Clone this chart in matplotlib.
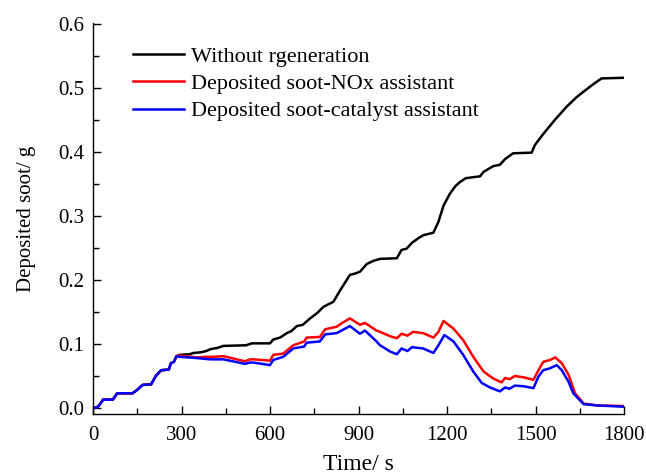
import matplotlib
matplotlib.use("Agg")
import matplotlib.pyplot as plt
from matplotlib.ticker import MultipleLocator, FormatStrFormatter

plt.rcParams['font.family'] = ['Liberation Serif', 'DejaVu Serif']

# Shared loading phase (all three curves coincide up to ~290 s)
t_common = [0, 14, 24, 34, 67, 82, 134, 149, 168, 197, 213, 231, 257, 264, 274, 283]
v_common = [0.0, 0.001, 0.006, 0.013, 0.013, 0.023, 0.023, 0.028, 0.036, 0.037,
            0.050, 0.059, 0.060, 0.070, 0.072, 0.081]

# Without regeneration
t_black = [293, 327, 341, 365, 384, 399, 423, 442, 519, 538, 600, 611, 634, 657, 672,
           691, 711, 736, 759, 781, 802, 815, 838, 860, 871, 888, 905, 928, 951, 973,
           1030, 1046, 1063, 1081, 1105, 1120, 1154, 1171, 1188, 1210, 1229, 1244,
           1263, 1278, 1312, 1324, 1357, 1379, 1397, 1424, 1487, 1498, 1526, 1567,
           1606, 1640, 1662, 1696, 1724, 1800]
v_black = [0.083, 0.084, 0.086, 0.087, 0.089, 0.092, 0.094, 0.097, 0.098, 0.101,
           0.101, 0.107, 0.110, 0.117, 0.120, 0.128, 0.130, 0.140, 0.148, 0.158,
           0.163, 0.166, 0.184, 0.200, 0.208, 0.210, 0.213, 0.225, 0.230, 0.233,
           0.234, 0.247, 0.249, 0.258, 0.266, 0.270, 0.274, 0.291, 0.316, 0.335,
           0.347, 0.353, 0.359, 0.360, 0.362, 0.369, 0.378, 0.380, 0.389, 0.398,
           0.399, 0.411, 0.428, 0.451, 0.471, 0.486, 0.494, 0.506, 0.515, 0.516]

# Deposited soot, NOx assisted regeneration
t_red = [293, 352, 384, 408, 442, 515, 533, 544, 600, 611, 645, 663, 679, 716, 724,
         769, 787, 826, 845, 871, 905, 922, 961, 973, 1008, 1030, 1046, 1066, 1085,
         1119, 1154, 1171, 1188, 1222, 1255, 1289, 1324, 1357, 1385, 1397, 1412,
         1430, 1459, 1493, 1510, 1526, 1549, 1567, 1589, 1612, 1634, 1663, 1708, 1800]
v_red = [0.082, 0.079, 0.080, 0.080, 0.081, 0.073, 0.076, 0.076, 0.074, 0.083,
         0.085, 0.092, 0.098, 0.104, 0.110, 0.111, 0.123, 0.127, 0.133, 0.140,
         0.130, 0.133, 0.121, 0.119, 0.112, 0.109, 0.116, 0.113, 0.119, 0.117,
         0.110, 0.119, 0.136, 0.124, 0.106, 0.080, 0.057, 0.046, 0.040, 0.047,
         0.045, 0.050, 0.048, 0.044, 0.059, 0.072, 0.075, 0.079, 0.070, 0.052,
         0.023, 0.007, 0.004, 0.003]

# Deposited soot, catalyst assisted regeneration
t_blue = [293, 352, 397, 442, 515, 533, 544, 600, 611, 645, 679, 716, 724, 769, 787,
          826, 871, 905, 922, 961, 973, 1008, 1030, 1046, 1066, 1081, 1119, 1154,
          1171, 1191, 1222, 1255, 1289, 1318, 1346, 1379, 1397, 1412, 1430, 1459,
          1493, 1510, 1526, 1549, 1572, 1589, 1612, 1628, 1663, 1708, 1800]
v_blue = [0.080, 0.078, 0.076, 0.076, 0.069, 0.071, 0.071, 0.067, 0.075, 0.080,
          0.093, 0.096, 0.102, 0.104, 0.115, 0.117, 0.128, 0.116, 0.121, 0.104,
          0.098, 0.088, 0.084, 0.093, 0.089, 0.095, 0.093, 0.086, 0.098, 0.114,
          0.104, 0.083, 0.057, 0.039, 0.032, 0.026, 0.032, 0.030, 0.035, 0.034,
          0.031, 0.049, 0.059, 0.062, 0.067, 0.059, 0.041, 0.023, 0.006, 0.004,
          0.002]

labels = ["Without rgeneration", "Deposited soot-NOx assistant",
          "Deposited soot-catalyst assistant"]
colors = ["#000000", "#ff0000", "#0000ff"]

fig = plt.figure(figsize=(6.46, 4.75), dpi=100)
ax = fig.add_axes([93 / 646, 61 / 475, 531 / 646, 391 / 475])

series = [(t_black, v_black), (t_red, v_red), (t_blue, v_blue)]
for (ts, vs), lab, col in zip(series, labels, colors):
    ax.plot(t_common + ts, v_common + vs, color=col, lw=1.8, label=lab)

ax.set_xlim(0, 1800)
ax.set_ylim(-0.0094, 0.6016)
ax.xaxis.set_major_locator(MultipleLocator(300))
ax.xaxis.set_minor_locator(MultipleLocator(150))
ax.yaxis.set_major_locator(MultipleLocator(0.1))
ax.yaxis.set_minor_locator(MultipleLocator(0.05))
ax.yaxis.set_major_formatter(FormatStrFormatter('%.1f'))

for side in ("top", "right"):
    ax.spines[side].set_visible(False)
for side in ("left", "bottom"):
    ax.spines[side].set_linewidth(1.0)

ax.tick_params(which="both", direction="in", width=1.0, labelsize=15)
ax.tick_params(which="major", length=6)
ax.tick_params(which="minor", length=4)
ax.tick_params(axis="x", pad=9)
ax.tick_params(axis="y", pad=6)

ax.set_xlabel("Time/ s", fontsize=17, labelpad=6)
ax.set_ylabel("Deposited soot/ g", fontsize=15, labelpad=16)

ax.legend(loc="upper left", bbox_to_anchor=(0.075, 0.940), frameon=False,
          fontsize=16, handlelength=2.3, handletextpad=0.3, labelspacing=0.3,
          borderpad=0, borderaxespad=0)

fig.savefig("out.png", dpi=100)
